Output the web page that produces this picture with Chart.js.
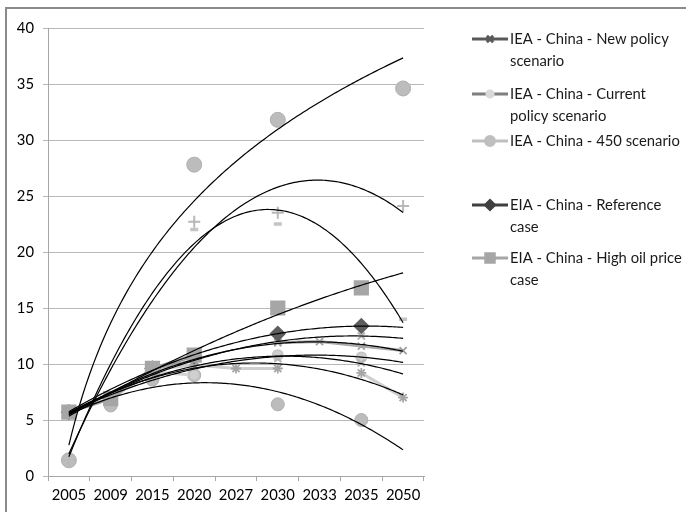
<!DOCTYPE html>
<html><head><meta charset="utf-8">
<script src="https://cdn.jsdelivr.net/npm/chart.js@4.4.1/dist/chart.umd.min.js"></script>
<style>html,body{margin:0;padding:0;background:#fff;}#wrap{width:686px;height:512px;}</style>
</head><body><div id="wrap"><canvas id="c" width="686" height="512"></canvas></div>
<script>
// ---------- data ----------
const categories = ['2005','2009','2015','2020','2027','2030','2033','2035','2050'];
const yTickValues = [0,5,10,15,20,25,30,35,40];
const seriesNames = [
  'IEA - China - New policy scenario',
  'IEA - China - Current policy scenario',
  'IEA - China - 450 scenario',
  'EIA - China - Reference case',
  'EIA - China - High oil price case'
];
const newPolicy     = [5.7, 6.9, 9.6, 10.3, null, 11.9, 12.0, 11.6, 11.2];
const currentPolicy = [5.7, 6.9, 9.5, 9.9, 9.6, 9.6, null, 9.2, 7.0];
const scenario450   = [5.7, 6.9, 9.3, 9.0, null, 10.8, null, 10.6, null];
const eiaReference  = [5.7, null, 9.6, 10.7, null, 12.7, null, 13.4, null];
const eiaHighOil    = [5.7, 6.9, 9.6, 10.8, null, 15.0, null, 16.8, null];
// extra series without legend entries
const extraBigCircles = [1.4, null, null, 27.8, null, 31.8, null, null, 34.6];
const extraPlus       = [1.4, null, null, 22.7, null, 23.5, null, null, 24.1];
const extraDash       = [1.4, null, null, 22.0, null, 22.5, null, null, 14.0];
const extraLowCircles = [null, 6.3, 8.6, 9.0, null, 6.4, null, 5.0, null];
const extraCrossA     = [5.7, 6.9, 9.5, 10.2, null, 12.0, null, 12.5, null];
const extraCrossB     = [5.7, 6.9, 9.3, 9.8, null, 10.5, null, 10.1, null];

// ---------- trendline fitting ----------
function solve(A, b) {
  const n = b.length;
  for (let i = 0; i < n; i++) {
    let p = i;
    for (let r = i + 1; r < n; r++) if (Math.abs(A[r][i]) > Math.abs(A[p][i])) p = r;
    [A[i], A[p]] = [A[p], A[i]]; [b[i], b[p]] = [b[p], b[i]];
    for (let r = i + 1; r < n; r++) {
      const f = A[r][i] / A[i][i];
      for (let c = i; c < n; c++) A[r][c] -= f * A[i][c];
      b[r] -= f * b[i];
    }
  }
  const x = new Array(n).fill(0);
  for (let i = n - 1; i >= 0; i--) {
    let s = b[i];
    for (let c = i + 1; c < n; c++) s -= A[i][c] * x[c];
    x[i] = s / A[i][i];
  }
  return x;
}
function polyFit(xs, ys, deg) {
  const m = deg + 1;
  const A = Array.from({length: m}, () => new Array(m).fill(0));
  const b = new Array(m).fill(0);
  xs.forEach((x, k) => {
    for (let i = 0; i < m; i++) {
      b[i] += ys[k] * Math.pow(x, i);
      for (let j = 0; j < m; j++) A[i][j] += Math.pow(x, i + j);
    }
  });
  const c = solve(A, b);
  return x => c.reduce((s, ci, i) => s + ci * Math.pow(x, i), 0);
}
function makeTrend(values, type) {
  const xs = [], ys = [];
  values.forEach((v, i) => { if (v !== null) { xs.push(i + 1); ys.push(v); } });
  if (type === 'log') {
    const f = polyFit(xs.map(Math.log), ys, 1);
    return x => f(Math.log(x));
  }
  return polyFit(xs, ys, type === 'linear' ? 1 : 2);
}

// ---------- styles ----------
const seriesDefs = [
  {data: newPolicy,     trend: 'poly2', line: '#a8a8a8', lw: 3, pt: 'crossRot', r: 5, pc: '#a0a0a0', fill: '#a0a0a0', show: true, order: 3},
  {data: currentPolicy, trend: 'poly2', line: '#cfcfcf', lw: 3, pt: 'star',     r: 5, pc: '#a6a6a6', fill: '#a6a6a6', show: true, order: 3},
  {data: scenario450,   trend: 'poly2', line: '#d4d4d4', lw: 3, pt: 'circle',   r: 5, pc: '#c4c4c4', fill: '#d0d0d0', show: true, order: 4},
  {data: eiaReference,  trend: 'poly2', line: '#8a8a8a', lw: 3, pt: 'rectRot',  r: 7, pc: '#5e5e5e', fill: '#5e5e5e', show: true, order: 2.5},
  {data: eiaHighOil,    trend: 'poly2', line: '#a6a6a6', lw: 3, pt: 'rect',     r: 9.5, pc: '#a6a6a6', fill: '#a6a6a6', show: true, order: 2},
  {data: extraPlus,       trend: 'poly2', pt: 'cross',    r: 6,   pc: '#b8b8b8', fill: '#b8b8b8', bw: 2, show: false, order: 2},
  {data: extraDash,       trend: 'poly2', pt: 'line',     r: 4,   pc: '#c4c4c4', fill: '#c4c4c4', bw: 3.5, show: false, order: 2},
  {data: extraBigCircles, trend: 'log',   pt: 'circle',   r: 7.5, pc: '#b0b0b0', fill: '#bcbcbc', bw: 1, show: false, order: 6},
  {data: extraLowCircles, trend: 'poly2', pt: 'circle',   r: 6.5, pc: '#b0b0b0', fill: '#bcbcbc', bw: 1, show: false, order: 6},
  {data: extraCrossA,     trend: 'poly2', pt: 'crossRot', r: 5,   pc: '#b5b5b5', fill: '#b5b5b5', bw: 2, show: false, order: 3},
  {data: extraCrossB,     trend: 'poly2', pt: 'crossRot', r: 5,   pc: '#b5b5b5', fill: '#b5b5b5', bw: 2, show: false, order: 3}
];
const legendStyles = [
  {line: '#595959', pt: 'crossRot', r: 4.5, pc: '#595959', fill: '#595959', bw: 1.5},
  {line: '#7f7f7f', pt: 'star',     r: 4.5, pc: '#d9d9d9', fill: '#d9d9d9', bw: 1.2},
  {line: '#bfbfbf', pt: 'circle',   r: 4.5, pc: '#bfbfbf', fill: '#bfbfbf', bw: 1},
  {line: '#404040', pt: 'rectRot',  r: 4.5, pc: '#404040', fill: '#404040', bw: 1},
  {line: '#a6a6a6', pt: 'rect',     r: 6,   pc: '#a6a6a6', fill: '#a6a6a6', bw: 1}
];
const legendRowY = [39, 94, 141, 205, 258];
const FONT = 'Lato, "Open Sans", sans-serif';
const FONT_SIZE = 14.8;

const datasets = [];
seriesDefs.forEach((s, i) => {
  datasets.push({
    label: seriesNames[i] || '',
    data: s.data,
    xAxisID: 'x', yAxisID: 'y',
    showLine: s.show,
    borderColor: s.line || s.pc,
    borderWidth: s.lw || 0,
    spanGaps: false,
    pointStyle: s.pt,
    pointRadius: s.r,
    pointBorderColor: s.pc,
    pointBackgroundColor: s.fill,
    pointBorderWidth: s.bw || 1.8,
    order: s.order
  });
});
seriesDefs.forEach(s => {
  const f = makeTrend(s.data, s.trend);
  const pts = [];
  for (let k = 0; k <= 160; k++) { const x = 1 + k * 8 / 160; pts.push({x: x, y: f(x)}); }
  datasets.push({
    data: pts, xAxisID: 'xl', yAxisID: 'y',
    borderColor: '#000000', borderWidth: 1.2, pointRadius: 0, tension: 0, order: 1
  });
});

const framePlugin = {
  id: 'frame',
  beforeDraw(chart) {
    const ctx = chart.ctx;
    ctx.save();
    ctx.fillStyle = '#ffffff';
    ctx.fillRect(0, 0, chart.width, chart.height);
    ctx.strokeStyle = '#8a8a8a';
    ctx.lineWidth = 2;
    ctx.strokeRect(6, 8, chart.width + 10, chart.height + 10);
    ctx.restore();
  }
};
function wrapText(ctx, text, maxW) {
  const words = text.split(' ');
  const lines = []; let cur = '';
  words.forEach(w => {
    const t = cur ? cur + ' ' + w : w;
    if (ctx.measureText(t).width > maxW && cur) { lines.push(cur); cur = w; } else cur = t;
  });
  if (cur) lines.push(cur);
  return lines;
}
const legendPlugin = {
  id: 'customLegend',
  afterDraw(chart) {
    const ctx = chart.ctx;
    ctx.save();
    ctx.font = FONT_SIZE + 'px ' + FONT;
    ctx.textBaseline = 'middle';
    ctx.textAlign = 'left';
    seriesNames.forEach((name, i) => {
      const st = legendStyles[i];
      const y = legendRowY[i];
      ctx.strokeStyle = st.line; ctx.lineWidth = 3;
      ctx.beginPath(); ctx.moveTo(472, y); ctx.lineTo(508, y); ctx.stroke();
      ctx.strokeStyle = st.pc; ctx.fillStyle = st.fill;
      Chart.helpers.drawPoint(ctx, {pointStyle: st.pt, radius: st.r, borderWidth: st.bw, rotation: 0}, 490, y);
      ctx.fillStyle = '#1a1a1a';
      wrapText(ctx, name, 174).forEach((ln, k) => ctx.fillText(ln, 510, y + k * 22.5));
    });
    ctx.restore();
  }
};

new Chart(document.getElementById('c'), {
  type: 'line',
  data: {datasets: datasets},
  plugins: [framePlugin, legendPlugin],
  options: {
    responsive: false, animation: false, devicePixelRatio: 1,
    layout: {padding: {left: 0, top: 28, right: 262, bottom: 0}},
    plugins: {legend: {display: false}, tooltip: {enabled: false}},
    scales: {
      x: {
        type: 'category', labels: categories, offset: true,
        grid: {offset: true, drawOnChartArea: false, drawTicks: true, tickLength: 5, color: '#a6a6a6'},
        border: {color: '#a6a6a6', width: 1},
        ticks: {color: '#000', font: {family: FONT, size: FONT_SIZE}, padding: 5, maxRotation: 0, autoSkip: false},
        afterFit: s => { s.height = 36; }
      },
      xl: {type: 'linear', display: false, min: 0.5, max: 9.5},
      y: {
        min: 0, max: 40,
        afterBuildTicks: s => { s.ticks = yTickValues.map(v => ({value: v})); },
        grid: {color: '#b8b8b8', tickLength: 5},
        border: {color: '#a6a6a6', width: 1},
        ticks: {color: '#000', font: {family: FONT, size: FONT_SIZE}, padding: 9},
        afterFit: s => { s.width = 48; }
      }
    }
  }
});
</script></body></html>
